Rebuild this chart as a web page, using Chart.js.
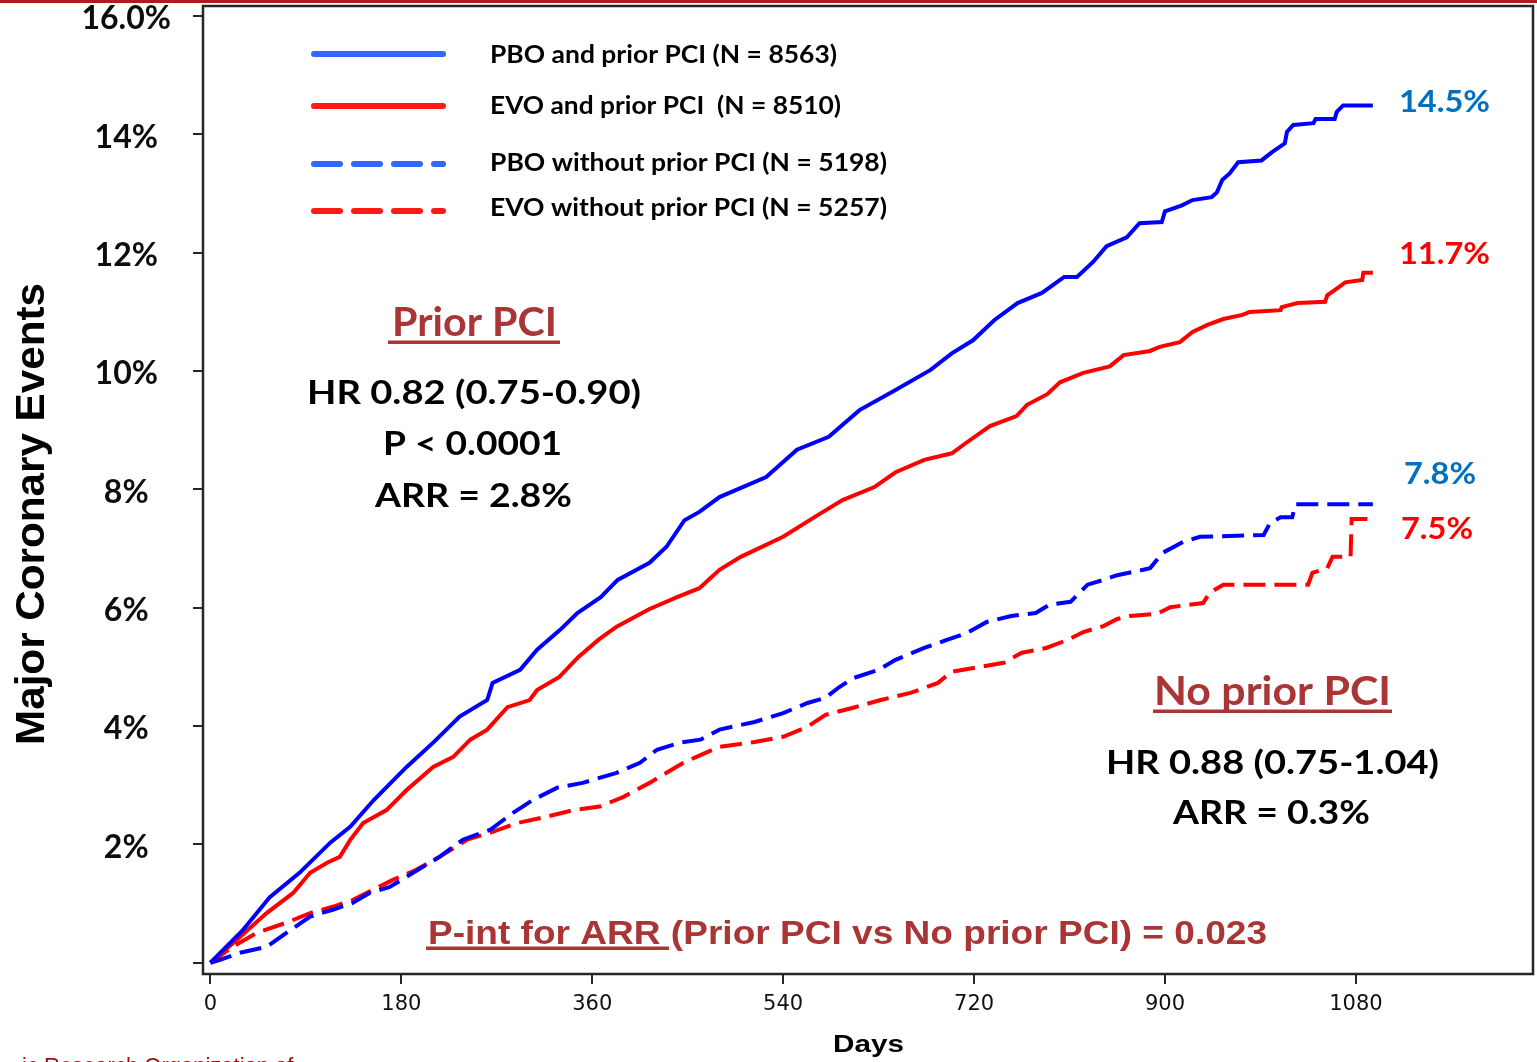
<!DOCTYPE html>
<html>
<head>
<meta charset="utf-8">
<script src="https://cdn.jsdelivr.net/npm/chart.js@4.4.1/dist/chart.umd.min.js"></script>
<style>
  html, body { margin: 0; padding: 0; background: #fff; }
  #wrap { width: 1537px; height: 1062px; position: relative; }
</style>
</head>
<body>
<div id="wrap"><canvas id="kmChart" width="1537" height="1062"></canvas></div>
<script>
// Kaplan-Meier curves, values (days, % with event)
const pboPriorDays = [0,31,56,84,113,132,154,185,210,235,261,266,292,308,330,346,368,384,414,430,447,461,480,524,553,583,612,646,679,699,719,739,761,784,805,817,832,845,864,876,897,900,916,926,944,949,954,961,969,991,1001,1013,1015,1021,1040,1042,1060,1062,1068,1096];
const pboPriorPct  = [0,0.56,1.11,1.52,2.03,2.30,2.75,3.31,3.72,4.16,4.44,4.73,4.95,5.29,5.63,5.91,6.18,6.47,6.76,7.03,7.48,7.62,7.87,8.21,8.67,8.89,9.34,9.68,10.02,10.30,10.52,10.86,11.15,11.32,11.59,11.59,11.84,12.11,12.26,12.50,12.52,12.70,12.80,12.89,12.94,13.02,13.23,13.34,13.53,13.56,13.70,13.85,14.04,14.16,14.19,14.26,14.26,14.38,14.49,14.49];

const evoPriorDays = [0,25,53,78,94,110,122,132,144,166,185,210,229,245,261,280,301,308,329,347,366,383,414,440,461,480,500,540,573,596,626,646,673,699,712,735,760,770,789,801,823,848,861,886,895,914,926,940,955,973,980,1009,1010,1025,1051,1053,1060,1070,1086,1087,1096];
const evoPriorPct  = [0,0.39,0.84,1.18,1.52,1.69,1.79,2.08,2.36,2.58,2.92,3.31,3.48,3.77,3.94,4.32,4.44,4.61,4.83,5.17,5.46,5.68,5.98,6.18,6.33,6.64,6.86,7.20,7.57,7.82,8.04,8.29,8.50,8.61,8.78,9.07,9.24,9.43,9.61,9.81,9.97,10.08,10.27,10.34,10.41,10.49,10.66,10.78,10.88,10.95,11.00,11.03,11.08,11.15,11.17,11.28,11.37,11.50,11.54,11.66,11.66];

const pboNoPriorDays = [0,9,28,53,72,94,116,134,150,169,191,216,238,264,285,304,327,351,383,405,421,443,462,480,513,540,563,580,593,606,630,646,673,695,713,732,755,778,791,811,827,842,855,874,886,898,917,933,993,999,1009,1020,1023,1096];
const pboNoPriorPct  = [0,0.05,0.17,0.27,0.51,0.78,0.90,1.01,1.18,1.28,1.52,1.79,2.08,2.25,2.53,2.75,2.96,3.04,3.21,3.38,3.60,3.72,3.77,3.94,4.07,4.22,4.39,4.48,4.66,4.81,4.95,5.12,5.32,5.46,5.57,5.76,5.86,5.91,6.05,6.10,6.39,6.47,6.55,6.62,6.67,6.93,7.11,7.20,7.23,7.43,7.53,7.53,7.75,7.75];

const evoNoPriorDays = [0,21,44,72,94,116,134,153,172,194,216,242,264,289,317,342,367,389,414,430,446,462,480,513,540,563,580,606,632,660,686,699,726,748,765,788,810,823,842,855,867,893,905,936,942,955,1035,1039,1053,1058,1075,1076,1096];
const evoNoPriorPct  = [0,0.27,0.51,0.68,0.84,0.95,1.06,1.23,1.40,1.57,1.79,2.08,2.20,2.36,2.47,2.58,2.64,2.80,3.04,3.21,3.38,3.51,3.65,3.73,3.82,3.99,4.19,4.31,4.44,4.56,4.73,4.92,5.00,5.07,5.24,5.32,5.47,5.59,5.69,5.81,5.86,5.90,6.01,6.08,6.25,6.39,6.39,6.59,6.67,6.86,6.86,7.50,7.50];

const seriesNames = ['PBO and prior PCI (N = 8563)', 'EVO and prior PCI  (N = 8510)', 'PBO without prior PCI (N = 5198)', 'EVO without prior PCI (N = 5257)'];
const endLabels = ['14.5%', '11.7%', '7.8%', '7.5%'];

const xTicks = [0, 180, 360, 540, 720, 900, 1080];
const yTicks = [0, 2, 4, 6, 8, 10, 12, 14, 16];
const yTickLabels = ['', '2%', '4%', '6%', '8%', '10%', '12%', '14%', '16.0%'];

const BLUE = '#0000ff', RED = '#ff0000', DARKRED = '#a93535';

function pts(days, pct) { return days.map((d, i) => ({ x: d, y: pct[i] })); }

// text stretched to the width it has in the picture
function fitText(ctx, text, x1, x2, yc, font, size, color) {
  ctx.font = font;
  ctx.fillStyle = color;
  ctx.textAlign = 'left';
  ctx.textBaseline = 'alphabetic';
  const w = ctx.measureText(text).width;
  ctx.save();
  ctx.translate(x1, yc + size * 0.36);
  ctx.scale((x2 - x1) / w, 1);
  ctx.fillText(text, 0, 0);
  ctx.restore();
}

function underline(ctx, x1, x2, y, color) {
  ctx.fillStyle = color;
  ctx.fillRect(x1, y - 1.5, x2 - x1, 3.5);
}

const overlay = {
  id: 'overlay',
  afterDraw(chart) {
    const ctx = chart.ctx;
    const a = chart.chartArea;
    ctx.save();

    // slide band on top
    ctx.fillStyle = '#b31b1b';
    ctx.fillRect(0, 0, 1537, 3);

    // plot frame
    ctx.strokeStyle = '#262626';
    ctx.lineWidth = 2.5;
    ctx.strokeRect(a.left, a.top, a.right - a.left, a.bottom - a.top);

    // legend
    const legY = [54, 106, 164, 211];
    const legCol = ['#3366ff', '#ff1a1a', '#3366ff', '#ff1a1a'];
    ctx.lineCap = 'round';
    ctx.lineWidth = 6;
    legY.forEach((y, i) => {
      ctx.strokeStyle = legCol[i];
      ctx.setLineDash(i < 2 ? [] : [26, 14]);
      ctx.beginPath();
      ctx.moveTo(314, y);
      ctx.lineTo(443, y);
      ctx.stroke();
    });
    ctx.setLineDash([]);
    const legEnd = [837, 841, 887, 887];
    const legTxtY = [54, 105, 162, 207];
    seriesNames.forEach((t, i) => {
      fitText(ctx, t, 490, legEnd[i], legTxtY[i], 'bold 25px Lato', 25, '#000');
    });

    // prior PCI block
    fitText(ctx, 'Prior PCI', 392, 557, 322, 'bold 40px Lato', 40, DARKRED);
    underline(ctx, 388, 560, 342, DARKRED);
    fitText(ctx, 'HR 0.82 (0.75-0.90)', 307, 641, 392, 'bold 32px Lato', 32, '#000');
    fitText(ctx, 'P < 0.0001', 383, 562, 443, 'bold 32px Lato', 32, '#000');
    fitText(ctx, 'ARR = 2.8%', 375, 572, 495, 'bold 32px Lato', 32, '#000');

    // no prior PCI block
    fitText(ctx, 'No prior PCI', 1154, 1391, 691, 'bold 40px Lato', 40, DARKRED);
    underline(ctx, 1153, 1392, 711, DARKRED);
    fitText(ctx, 'HR 0.88 (0.75-1.04)', 1106, 1439, 762, 'bold 32px Lato', 32, '#000');
    fitText(ctx, 'ARR = 0.3%', 1173, 1370, 812, 'bold 32px Lato', 32, '#000');

    // interaction p-value
    fitText(ctx, 'P-int for ARR (Prior PCI vs No prior PCI) = 0.023', 428, 1267, 932, 'bold 33px "Liberation Sans"', 33, DARKRED);
    underline(ctx, 426, 669, 948, DARKRED);

    // values at the end of the curves
    fitText(ctx, endLabels[0], 1399, 1490, 101, 'bold 31px Lato', 31, '#0070c0');
    fitText(ctx, endLabels[1], 1399, 1490, 253, 'bold 31px Lato', 31, RED);
    fitText(ctx, endLabels[2], 1404, 1476, 473, 'bold 31px Lato', 31, '#0070c0');
    fitText(ctx, endLabels[3], 1401, 1473, 528, 'bold 31px Lato', 31, RED);

    // axis titles
    fitText(ctx, 'Days', 833, 904, 1043, 'bold 24px "Liberation Sans"', 24, '#000');
    ctx.save();
    ctx.translate(30, 745);
    ctx.rotate(-Math.PI / 2);
    fitText(ctx, 'Major Coronary Events', 0, 462, 0, 'bold 40px "Liberation Sans"', 40, '#000');
    ctx.restore();

    // cut-off footer text
    ctx.font = '22px "Liberation Sans"';
    ctx.fillStyle = '#a01010';
    ctx.textBaseline = 'top';
    ctx.fillText('ic Research Organization of', 22, 1056);

    ctx.restore();
  }
};

const chart = new Chart(document.getElementById('kmChart'), {
  type: 'line',
  data: {
    datasets: [
      { label: seriesNames[0], data: pts(pboPriorDays, pboPriorPct), borderColor: BLUE, borderWidth: 4 },
      { label: seriesNames[1], data: pts(evoPriorDays, evoPriorPct), borderColor: RED, borderWidth: 4 },
      { label: seriesNames[2], data: pts(pboNoPriorDays, pboNoPriorPct), borderColor: BLUE, borderWidth: 4, borderDash: [22, 9] },
      { label: seriesNames[3], data: pts(evoNoPriorDays, evoNoPriorPct), borderColor: RED, borderWidth: 4, borderDash: [22, 9] }
    ]
  },
  options: {
    responsive: false,
    animation: false,
    layout: { padding: { left: 0, top: 6, right: 4, bottom: 0 } },
    elements: { point: { radius: 0 }, line: { tension: 0, fill: false, borderJoinStyle: 'miter' } },
    plugins: { legend: { display: false }, tooltip: { enabled: false } },
    scales: {
      x: {
        type: 'linear', min: -7, max: 1247,
        afterFit(s) { s.height = 88; s.paddingLeft = 0; s.paddingRight = 0; s.paddingTop = 0; s.paddingBottom = 0; },
        afterBuildTicks(s) { s.ticks = xTicks.map(v => ({ value: v })); },
        grid: { drawOnChartArea: false, drawTicks: true, tickLength: 10, color: '#262626', lineWidth: 2 },
        border: { display: false },
        ticks: { font: { family: 'DejaVu Sans', size: 21 }, color: '#111', padding: 8, maxRotation: 0, autoSkip: false, callback: v => String(v) }
      },
      y: {
        type: 'linear', min: -0.19, max: 16.17,
        afterFit(s) { s.width = 203; s.paddingTop = 0; s.paddingBottom = 0; s.paddingLeft = 0; s.paddingRight = 0; },
        afterBuildTicks(s) { s.ticks = yTicks.map(v => ({ value: v })); },
        grid: { drawOnChartArea: false, drawTicks: true, tickLength: 10, color: '#262626', lineWidth: 2 },
        border: { display: false },
        ticks: { font: { family: 'Lato', size: 32, weight: 'bold' }, color: '#0d0d0d', padding: 22, labelOffset: 3, crossAlign: 'center', autoSkip: false, callback: (v, i) => yTickLabels[i] }
      }
    }
  },
  plugins: [overlay]
});
</script>
</body>
</html>
